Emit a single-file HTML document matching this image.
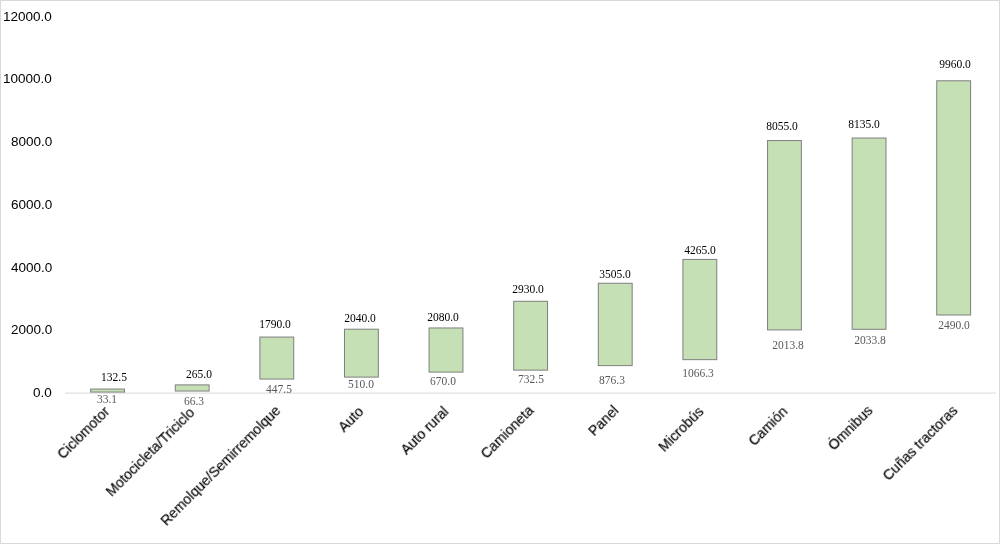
<!DOCTYPE html>
<html><head><meta charset="utf-8"><style>
html,body{margin:0;padding:0;}
body{width:1000px;height:544px;position:relative;overflow:hidden;background:#fff;}
#frame{position:absolute;left:0;top:0;width:998px;height:542px;border:1px solid #d9d9d9;}
.yl{position:absolute;right:948px;will-change:transform;font-family:"Liberation Sans",sans-serif;font-size:13.5px;line-height:13.5px;color:#000;white-space:nowrap;}
.dl{position:absolute;will-change:transform;font-family:"Liberation Serif",serif;font-size:11.5px;line-height:11.5px;white-space:nowrap;transform:translateX(-50%);}
.t{color:#000;}
.b{color:#595959;}
.cl{position:absolute;will-change:transform;-webkit-text-stroke:0.15px #000;font-family:"Liberation Sans",sans-serif;font-size:14px;line-height:14px;color:#000;white-space:nowrap;transform-origin:100% 0;transform:translateX(-100%) rotate(-45deg);}
</style></head><body>
<div id="frame"></div>

<div class="yl" style="top:386.10px">0.0</div>
<div class="yl" style="top:323.37px">2000.0</div>
<div class="yl" style="top:260.63px">4000.0</div>
<div class="yl" style="top:197.90px">6000.0</div>
<div class="yl" style="top:135.17px">8000.0</div>
<div class="yl" style="top:72.43px">10000.0</div>
<div class="yl" style="top:9.70px">12000.0</div>
<svg id="plot" width="1000" height="544" viewBox="0 0 1000 544" style="position:absolute;left:0;top:0">
<line x1="65" y1="393.10" x2="996" y2="393.10" stroke="#d9d9d9" stroke-width="1"/>
<rect x="90.65" y="389.04" width="33.85" height="3.02" fill="#c5e0b4" stroke="#7f7f7f" stroke-width="1"/>
<rect x="175.26" y="384.89" width="33.85" height="6.13" fill="#c5e0b4" stroke="#7f7f7f" stroke-width="1"/>
<rect x="259.87" y="337.05" width="33.85" height="42.01" fill="#c5e0b4" stroke="#7f7f7f" stroke-width="1"/>
<rect x="344.48" y="329.21" width="33.85" height="47.89" fill="#c5e0b4" stroke="#7f7f7f" stroke-width="1"/>
<rect x="429.09" y="327.96" width="33.85" height="44.13" fill="#c5e0b4" stroke="#7f7f7f" stroke-width="1"/>
<rect x="513.70" y="301.30" width="33.85" height="68.83" fill="#c5e0b4" stroke="#7f7f7f" stroke-width="1"/>
<rect x="598.31" y="283.26" width="33.85" height="82.35" fill="#c5e0b4" stroke="#7f7f7f" stroke-width="1"/>
<rect x="682.92" y="259.42" width="33.85" height="100.23" fill="#c5e0b4" stroke="#7f7f7f" stroke-width="1"/>
<rect x="767.53" y="140.54" width="33.85" height="189.39" fill="#c5e0b4" stroke="#7f7f7f" stroke-width="1"/>
<rect x="852.14" y="138.03" width="33.85" height="191.27" fill="#c5e0b4" stroke="#7f7f7f" stroke-width="1"/>
<rect x="936.75" y="80.79" width="33.85" height="234.21" fill="#c5e0b4" stroke="#7f7f7f" stroke-width="1"/>
</svg>
<div class="dl t" style="left:113.90px;top:372.10px">132.5</div>
<div class="dl b" style="left:107.20px;top:393.70px">33.1</div>
<div class="dl t" style="left:199.00px;top:368.50px">265.0</div>
<div class="dl b" style="left:193.50px;top:396.00px">66.3</div>
<div class="dl t" style="left:275.20px;top:319.30px">1790.0</div>
<div class="dl b" style="left:279.10px;top:384.30px">447.5</div>
<div class="dl t" style="left:359.90px;top:312.90px">2040.0</div>
<div class="dl b" style="left:360.60px;top:379.10px">510.0</div>
<div class="dl t" style="left:442.90px;top:312.00px">2080.0</div>
<div class="dl b" style="left:443.00px;top:375.90px">670.0</div>
<div class="dl t" style="left:528.30px;top:283.90px">2930.0</div>
<div class="dl b" style="left:531.10px;top:373.80px">732.5</div>
<div class="dl t" style="left:615.40px;top:269.30px">3505.0</div>
<div class="dl b" style="left:612.10px;top:375.30px">876.3</div>
<div class="dl t" style="left:699.60px;top:245.10px">4265.0</div>
<div class="dl b" style="left:697.50px;top:367.60px">1066.3</div>
<div class="dl t" style="left:781.60px;top:121.30px">8055.0</div>
<div class="dl b" style="left:787.80px;top:339.60px">2013.8</div>
<div class="dl t" style="left:864.30px;top:119.20px">8135.0</div>
<div class="dl b" style="left:870.00px;top:335.20px">2033.8</div>
<div class="dl t" style="left:954.50px;top:59.40px">9960.0</div>
<div class="dl b" style="left:954.30px;top:319.80px">2490.0</div>
<div class="cl" style="left:102.20px;top:404.40px">Ciclomotor</div>
<div class="cl" style="left:186.60px;top:404.50px">Motocicleta/Triciclo</div>
<div class="cl" style="left:273.20px;top:403.10px">Remolque/Semirremolque</div>
<div class="cl" style="left:356.40px;top:404.20px">Auto</div>
<div class="cl" style="left:441.40px;top:404.00px">Auto rural</div>
<div class="cl" style="left:526.20px;top:403.20px">Camioneta</div>
<div class="cl" style="left:611.20px;top:402.70px">Panel</div>
<div class="cl" style="left:695.50px;top:404.20px">Microbús</div>
<div class="cl" style="left:780.40px;top:403.80px">Camión</div>
<div class="cl" style="left:864.70px;top:403.40px">Ómnibus</div>
<div class="cl" style="left:950.40px;top:402.50px">Cuñas tractoras</div>
</body></html>
